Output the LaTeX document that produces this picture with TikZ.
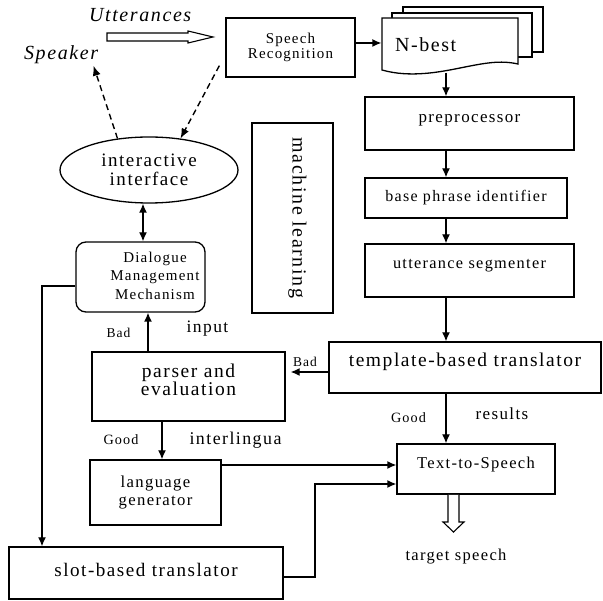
\documentclass[tikz,border=0pt]{standalone}
\usepackage{fontspec}
\setmainfont{Liberation Serif}[LetterSpace=8]
\usetikzlibrary{arrows.meta,shapes.geometric}

\begin{document}
\begin{tikzpicture}[x=1pt,y=-1pt,line width=1.3pt,
  fs/.style n args={2}{font=\fontsize{#1}{#2}\selectfont},
  box/.style={draw,rectangle,inner sep=1pt,align=center},
  arr/.style={-{Latex[length=9pt,width=8pt]}},
  dasharr/.style={dash pattern=on 6pt off 4pt,line width=1.4pt,-{Latex[length=10pt,width=8pt]}},
  hollow/.style={draw,fill=white,line width=1.1pt}]
\useasboundingbox[fill=white] (0,0) rectangle (603,601);

\node[fs={20}{20}] (utt) at (141,15) {\textit{Utterances}};
\node[fs={20}{20},inner sep=1pt] (speaker) at (62,55) {\textit{Speaker}};
\draw[hollow] (107,33) -- (188,33) -- (188,31) -- (213,37) -- (188,43) -- (188,41) -- (107,41) -- cycle;

\node[box,minimum width=129,minimum height=59,fs={15}{15}] (sr) at (290.5,47.5) {Speech\\Recognition};

\draw[fill=white] (403,7) rectangle (543,52);
\draw[fill=white] (392,13) rectangle (532,57);
\draw[fill=white] (382,18) -- (518,18) -- (518,64) .. controls (500,60) and (485,63) .. (460,68)
  .. controls (440,72) and (410,78) .. (382,70) -- cycle;
\node[minimum width=136,minimum height=54,text width=110,align=left,inner sep=0,fs={20}{20}] (nbest) at (450,45) {N-best};

\node[box,minimum width=209,minimum height=53,fs={17}{17},text depth=10pt] (pre) at (469.5,123.5) {preprocessor};
\node[box,minimum width=202,minimum height=40,fs={16}{16}] (bpi) at (466,198) {base phrase identifier};
\node[box,minimum width=209,minimum height=53,fs={16.3}{17},text depth=13pt] (seg) at (469.5,270.5) {utterance segmenter};
\node[box,minimum width=272,minimum height=51,fs={19.5}{20},text depth=16pt] (tmpl) at (465,367.5) {template-based translator};
\node[box,minimum width=158,minimum height=50,fs={16.5}{17},text depth=13pt] (tts) at (476,469) {Text-to-Speech};

\node[box,rotate=-90,minimum width=190,minimum height=81,fs={20}{20},text depth=14pt] (ml) at (292.5,218) {machine learning};

\node[draw,ellipse,minimum width=178,minimum height=66,inner sep=0,align=center,fs={19}{19}] (iface) at (149,170) {interactive\\interface};
\node[draw,rounded corners=10pt,minimum width=129,minimum height=70,inner sep=0,fs={15}{18.5}] (dmm) at (140.5,277)
  {\hspace*{29pt}\begin{tabular}{@{}c@{}}Dialogue\\Management\\Mechanism\end{tabular}};
\node[box,minimum width=193,minimum height=69,fs={19.5}{18},text depth=14pt] (parser) at (188.5,386.5) {parser and\\evaluation};
\node[box,minimum width=131,minimum height=65,fs={16.7}{18}] (langgen) at (155.5,492.5) {language\\generator};
\node[box,minimum width=274,minimum height=52,fs={19.1}{20},text depth=7pt] (slot) at (146,573) {slot-based translator};

\node[fs={13.5}{14}] (bad1) at (118.5,333) {Bad};
\node[fs={17.5}{18}] (input) at (207.5,329) {input};
\node[fs={13.5}{14}] (bad2) at (305,362) {Bad};
\node[fs={14.2}{15}] (good1) at (121,440) {Good};
\node[fs={17.9}{18}] (interl) at (235.5,440) {interlingua};
\node[fs={14.2}{15}] (good2) at (408.5,418) {Good};
\node[fs={17}{17}] (results) at (502,414) {results};
\node[fs={16.5}{17}] (target) at (456,557) {target speech};

\coordinate (rowNB) at (0,43);
\coordinate (colR) at (446,0);
\coordinate (rowBad) at (0,372);
\coordinate (colUp) at (148,0);
\coordinate (colI) at (143,0);
\coordinate (colDn) at (162,0);
\coordinate (loopL) at (42,286);
\coordinate (rowLG) at (0,465);
\coordinate (loopR) at (315,577);
\coordinate (rowS) at (0,484);

\draw[arr] (sr.east |- rowNB) -- (nbest.west |- rowNB);
\draw[arr] (nbest.south -| colR) -- (pre.north -| colR);
\draw[arr] (pre.south -| colR) -- (bpi.north -| colR);
\draw[arr] (bpi.south -| colR) -- (seg.north -| colR);
\draw[arr] (seg.south -| colR) -- (tmpl.north -| colR);
\draw[arr] (tmpl.south -| colR) -- (tts.north -| colR);
\draw[arr,shorten >=5pt] (tmpl.west |- rowBad) -- (parser.east |- rowBad);
\draw[arr] (parser.north -| colUp) -- (dmm.south -| colUp);
\draw[{Latex[length=9pt,width=8pt]}-{Latex[length=9pt,width=8pt]}] (iface.south -| colI) -- (dmm.north -| colI);
\draw[arr] (parser.south -| colDn) -- (langgen.north -| colDn);
\draw[arr] (dmm.west |- loopL) -- (loopL) -- (loopL |- slot.north);
\draw[arr] (langgen.east |- rowLG) -- (tts.west |- rowLG);
\draw[arr] (slot.east |- loopR) -- (loopR) |- (tts.west |- rowS);

\draw[dasharr] (iface.135) -- ([xshift=-8pt]speaker.south east);
\draw[dasharr] ([xshift=-6pt,yshift=12pt]sr.south west) -- (iface.45);

\draw[hollow] (448,495) -- (448,522) -- (443,522) -- (453.5,532) -- (464,522) -- (459,522) -- (459,495);
\end{tikzpicture}
\end{document}
